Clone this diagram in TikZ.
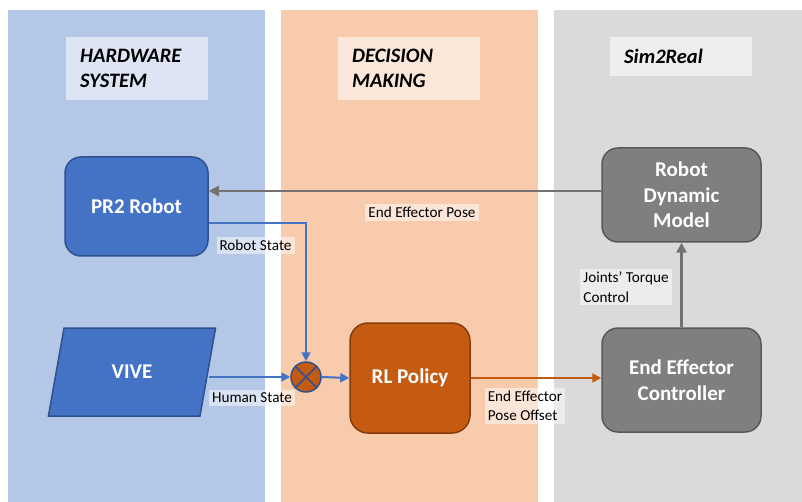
\documentclass[tikz,border=0pt]{standalone}
\usepackage{fontspec}
\setmainfont{Carlito}
\usetikzlibrary{arrows.meta,shapes.geometric,calc}
\definecolor{pblue}{HTML}{B4C7E7}
\definecolor{porange}{HTML}{F8CBAD}
\definecolor{pgray}{HTML}{DADADA}
\definecolor{nblue}{HTML}{4472C4}
\definecolor{nbluedark}{HTML}{2F528F}
\definecolor{norange}{HTML}{C55A11}
\definecolor{norangedark}{HTML}{843C0C}
\definecolor{ngray}{HTML}{7F7F7F}
\definecolor{ngraydark}{HTML}{595959}
\definecolor{agray}{HTML}{767171}
\tikzset{
  titlebox/.style={fill=white, fill opacity=0.55, text opacity=1, anchor=north west, align=left,
    font=\fontsize{20.5}{25}\selectfont\bfseries\itshape, inner xsep=14pt, inner ysep=0pt},
  lbl/.style={fill=white, fill opacity=0.5, text opacity=1, align=left,
    font=\fontsize{15.2}{19.5}\selectfont, inner xsep=3pt, inner ysep=3pt},
  blk/.style={rounded corners=16pt, line width=1.5pt, text=white, align=center,
    font=\fontsize{21}{25.5}\selectfont\bfseries},
  blueblk/.style={blk, fill=nblue, draw=nbluedark},
  orangeblk/.style={blk, fill=norange, draw=norangedark},
  grayblk/.style={blk, fill=ngray, draw=ngraydark},
  barrow/.style={draw=nblue, line width=2pt, -{Triangle[length=9pt,width=9pt]}},
  garrow/.style={draw=agray, line width=2.5pt, -{Triangle[length=10pt,width=10pt]}},
  oarrow/.style={draw=norange, line width=2pt, -{Triangle[length=9pt,width=9pt]}},
}
\begin{document}
\begin{tikzpicture}[x=1pt,y=-1pt]
\useasboundingbox (0,0) rectangle (802,502);
\fill[white] (0,0) rectangle (802,502);
% panels
\fill[pblue] (8,10) rectangle (265,502);
\fill[porange] (281,10) rectangle (538,502);
\fill[pgray] (554,10) rectangle (802,502);
% title boxes
\node[titlebox, minimum width=142pt, minimum height=63pt, text width=114pt] (t1) at (66,37) {HARDWARE\\SYSTEM};
\node[titlebox, minimum width=142pt, minimum height=63pt, text width=114pt] (t2) at (338,37) {DECISION\\MAKING};
\node[titlebox, minimum width=142pt, minimum height=39pt, text width=114pt] (t3) at (610,37) {Sim2Real};
% blocks
\node[blueblk, minimum width=143pt, minimum height=99pt] (pr2) at (136.5,206.5) {PR2 Robot};
\node[trapezium, trapezium left angle=75, trapezium right angle=105, trapezium stretches=true,
  minimum width=168pt, minimum height=88pt, fill=nblue, draw=nbluedark, line width=1.5pt,
  text=white, font=\fontsize{21}{25.5}\selectfont\bfseries] (vive) at (132,372) {VIVE};
\node[circle, minimum size=30pt, inner sep=0pt, fill=norange, draw=nbluedark, line width=1.5pt] (sum) at (306,377) {};
\draw[nbluedark, line width=1.5pt] (sum.north east) -- (sum.south west) (sum.north west) -- (sum.south east);
\node[orangeblk, minimum width=120pt, minimum height=110pt, rounded corners=18pt] (rl) at (410,378) {RL Policy};
\node[grayblk, minimum width=159pt, minimum height=94pt] (rdm) at (681.5,195) {Robot\\Dynamic\\Model};
\node[grayblk, minimum width=159pt, minimum height=104pt] (eec) at (681.5,380) {End Effector\\Controller};
% connectors
\draw[garrow] ([yshift=4pt]rdm.west) -- ([yshift=4pt]rdm.west -| pr2.east);
\draw[barrow] ([yshift=-16.5pt]pr2.east) -| (sum.north);
\draw[barrow] (vive.east |- sum.west) -- (sum.west);
\draw[barrow] (sum.east) -- (rl.west);
\draw[oarrow] (rl.east) -- (rl.east -| eec.west);
\draw[garrow] (eec.north) -- (rdm.south);
% labels
\node[lbl] (l1) at (255.5,245.5) {Robot State};
\node[lbl] (l2) at (252,398) {Human State};
\node[lbl] (l3) at (422,212.5) {End Effector Pose};
\node[lbl] (l4) at (525,406) {End Effector\\Pose Offset};
\node[lbl] (l5) at (626,287) {Joints’ Torque\\Control};
\end{tikzpicture}
\end{document}
